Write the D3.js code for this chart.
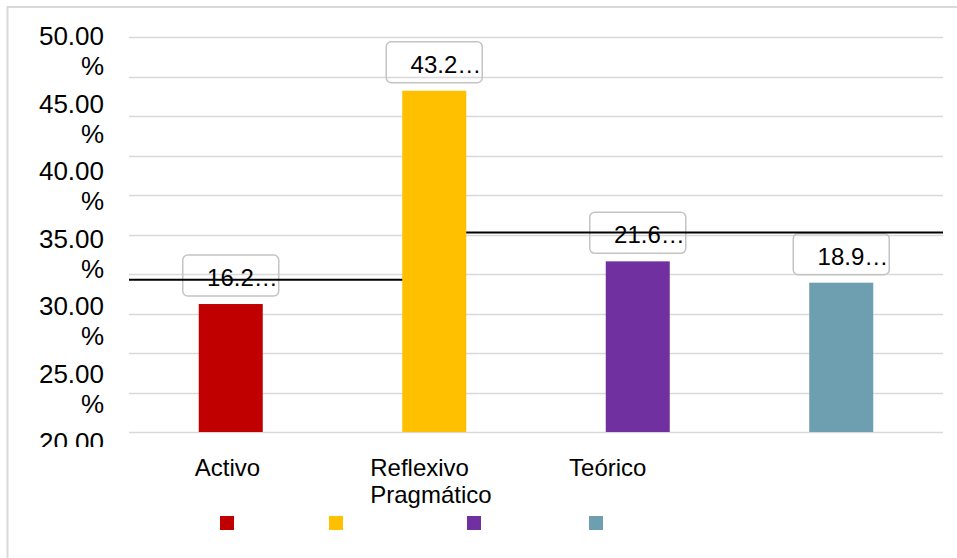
<!DOCTYPE html>
<html>
<head>
<meta charset="utf-8">
<script src="https://cdn.jsdelivr.net/npm/d3@7/dist/d3.min.js"></script>
<style>
  html, body { margin: 0; padding: 0; background: #fff; }
  svg { display: block; font-family: "Liberation Sans", Arial, sans-serif; }
  text { white-space: pre; }
</style>
</head>
<body>
<svg id="chart" width="957" height="558"></svg>
<script>
// ---- data ----
const categories = ["Activo ", "Reflexivo\nPragmático ", "Teórico         ", ""];
const values = [16.2, 43.2, 21.6, 18.9];
const colors = ["#C00000", "#FFC000", "#7030A0", "#6D9FB0"];
const yTickLabels = ["50.00", "45.00", "40.00", "35.00", "30.00", "25.00", "20.00"];
const stepLevels = [19.28, 25.25, 25.25, 25.25];

// ---- layout ----
const W = 957, H = 558;
const plot = { left: 129, right: 943, top: 37, bottom: 432 };
const svg = d3.select("#chart");

// border (top and left visible)
svg.append("path")
  .attr("d", `M7.5,${H} V7 H${W}`)
  .attr("fill", "none").attr("stroke", "#d9d9d9").attr("stroke-width", 2);

const x = d3.scaleBand().domain(d3.range(categories.length))
  .range([plot.left, plot.right]).paddingInner(0.6855).paddingOuter(0.6855 / 2);
const y = d3.scaleLinear().domain([0, 50]).range([plot.bottom, plot.top]);

// gridlines
svg.append("g").selectAll("line").data(y.ticks(10)).join("line")
  .attr("x1", plot.left).attr("x2", plot.right)
  .attr("y1", d => Math.round(y(d)) + 0.5).attr("y2", d => Math.round(y(d)) + 0.5)
  .attr("stroke", "#d9d9d9").attr("stroke-width", 1.5);

// y tick labels (wrapped, overflowing as in source)
svg.append("defs").append("clipPath").attr("id", "ylab")
  .append("rect").attr("x", 0).attr("y", 0).attr("width", 125).attr("height", 447);
const labelY = d3.scaleLinear().domain([0, 1]).range([45, 45 + 67.6]);
const yl = svg.append("g").attr("clip-path", "url(#ylab)")
  .attr("font-size", 26).attr("fill", "#000").attr("text-anchor", "end");
yTickLabels.forEach((t, i) => {
  const tx = yl.append("text").attr("x", 104).attr("y", labelY(i));
  tx.append("tspan").attr("x", 104).text(t);
  tx.append("tspan").attr("x", 104).attr("dy", 30).text("%");
});

// data label boxes
const boxW = 96, boxH = 41, gap = 8;
const bx = d => x(d.i) + x.bandwidth() / 2 - boxW / 2;
const data = values.map((v, i) => ({ v, i }));
svg.append("g").selectAll("rect").data(data).join("rect")
  .attr("x", d => bx(d)).attr("y", d => y(d.v) - gap - boxH)
  .attr("width", boxW).attr("height", boxH).attr("rx", 5)
  .attr("fill", "none").attr("stroke", "#c4c4c4").attr("stroke-width", 1.5);

// step line (drawn beneath bars; the step hides behind the second bar)
const linePts = [[plot.left, stepLevels[0]]]
  .concat(stepLevels.map((v, i) => [x(i) + x.bandwidth() / 2, v]))
  .concat([[plot.right, stepLevels[stepLevels.length - 1]]]);
svg.append("path")
  .attr("d", d3.line().x(d => d[0]).y(d => y(d[1])).curve(d3.curveStepAfter)(linePts))
  .attr("fill", "none").attr("stroke", "#000").attr("stroke-width", 2);

// bars
svg.append("g").selectAll("rect").data(data).join("rect")
  .attr("x", d => x(d.i)).attr("width", x.bandwidth())
  .attr("y", d => y(d.v)).attr("height", d => y(0) - y(d.v))
  .attr("fill", d => colors[d.i]);

// data label text
svg.append("g").selectAll("text").data(data).join("text")
  .attr("x", d => bx(d) + boxW - 1).attr("y", d => y(d.v) - gap - boxH + 31)
  .attr("text-anchor", "end").attr("font-size", 24).attr("fill", "#000")
  .text(d => d.v.toFixed(1) + "…");

// x category labels (block centred, lines left-aligned)
const xl = svg.append("g").attr("font-size", 24).attr("fill", "#000");
categories.forEach((c, i) => {
  const lines = c.split("\n");
  const t = xl.append("text").attr("y", 476);
  const spans = lines.map((ln, k) => t.append("tspan").attr("dy", k === 0 ? 0 : 27).text(ln));
  const widths = spans.map(s => s.node().getComputedTextLength());
  const bw = d3.max(widths) || 0;
  const left = x(i) + x.bandwidth() / 2 - bw / 2;
  spans.forEach(s => s.attr("x", left));
});

// legend (markers only)
const legendX = d3.scaleOrdinal().domain(d3.range(4)).range([220, 329, 467, 589]);
svg.append("g").selectAll("rect").data(colors).join("rect")
  .attr("x", (d, i) => legendX(i)).attr("y", 516)
  .attr("width", 14).attr("height", 14).attr("fill", d => d);
</script>
</body>
</html>
